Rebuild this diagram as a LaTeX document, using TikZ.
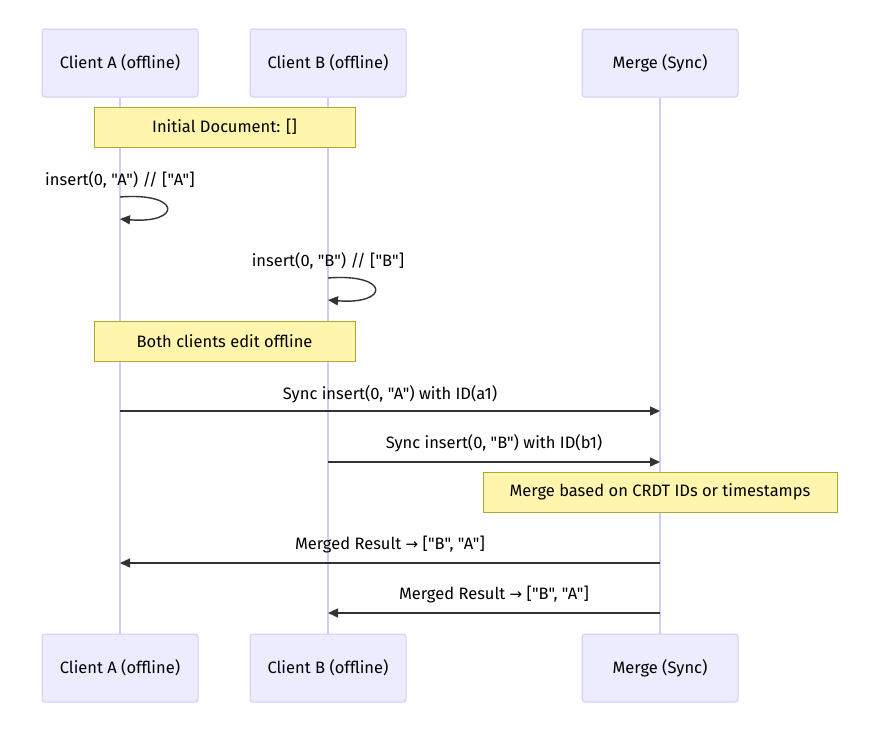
\documentclass[tikz,border=0pt]{standalone}
\usepackage{fontspec}
\newfontfamily\mainf{Fira Sans}
\newfontfamily\symfont{DejaVu Sans}
\usetikzlibrary{arrows.meta}
\definecolor{actfill}{HTML}{ECECFF}
\definecolor{actline}{HTML}{D3CBF3}
\definecolor{notefill}{HTML}{FFF5AD}
\definecolor{noteline}{HTML}{AAAA33}
\definecolor{msg}{HTML}{333333}
\begin{document}
\begin{tikzpicture}[x=1pt,y=-1pt,
  font=\mainf\fontsize{16.5}{19}\selectfont,
  actor/.style={draw=actline,fill=actfill,line width=1pt,rounded corners=3pt,minimum width=156pt,minimum height=68pt,inner sep=0pt},
  note/.style={draw=noteline,fill=notefill,line width=0.8pt,minimum height=40pt,inner sep=0pt},
  life/.style={draw=actline,line width=1.5pt},
  msgline/.style={draw=msg,line width=1.4pt,-{Triangle[length=10pt,width=9pt]}},
  lbl/.style={inner sep=0pt,text=black,anchor=center}]
\useasboundingbox (0,0) rectangle (871,729);
% actors
\node[actor] (a1) at (120,63) {Client A (offline)};
\node[actor] (b1) at (328,63) {Client B (offline)};
\node[actor] (m1) at (660,63) {Merge (Sync)};
\node[actor] (a2) at (120,668) {Client A (offline)};
\node[actor] (b2) at (328,668) {Client B (offline)};
\node[actor] (m2) at (660,668) {Merge (Sync)};
\draw[life] (a1) -- (a2);
\draw[life] (b1) -- (b2);
\draw[life] (m1) -- (m2);
% notes
\node[note,minimum width=261pt] (n1) at (224.5,127) {Initial Document: []};
\node[note,minimum width=261pt] (n2) at (224.5,341) {Both clients edit offline};
\node[note,minimum width=354pt] (n3) at (660,492) {Merge based on CRDT IDs or timestamps};
% self loops
\coordinate (sa1) at (120,197);
\coordinate (sa2) at (120,219);
\node[lbl] (la) at (120,180) {insert(0, "A") // ["A"]};
\draw[msgline] (sa1) .. controls (182,192) and (182,224) .. (sa2);
\coordinate (sb1) at (328,278);
\coordinate (sb2) at (328,300);
\node[lbl] (lb) at (328,261) {insert(0, "B") // ["B"]};
\draw[msgline] (sb1) .. controls (390,273) and (390,305) .. (sb2);
% messages
\coordinate (ya) at (120,411); \coordinate (ym) at (660,411);
\node[lbl] (l1) at (390,394) {Sync insert(0, "A") with ID(a1)};
\draw[msgline] (ya) -- (ym);
\coordinate (yb) at (328,462); \coordinate (ymb) at (660,462);
\node[lbl] (l2) at (494,443) {Sync insert(0, "B") with ID(b1)};
\draw[msgline] (yb) -- (ymb);
\coordinate (yr1) at (660,563); \coordinate (ya3) at (120,563);
\node[lbl] (l3) at (390,545) {Merged Result {\symfont\fontsize{15}{17}\selectfont →} ["B", "A"]};
\draw[msgline] (yr1) -- (ya3);
\coordinate (yr2) at (660,613); \coordinate (yb4) at (328,613);
\node[lbl] (l4) at (494,595) {Merged Result {\symfont\fontsize{15}{17}\selectfont →} ["B", "A"]};
\draw[msgline] (yr2) -- (yb4);
\end{tikzpicture}
\end{document}
